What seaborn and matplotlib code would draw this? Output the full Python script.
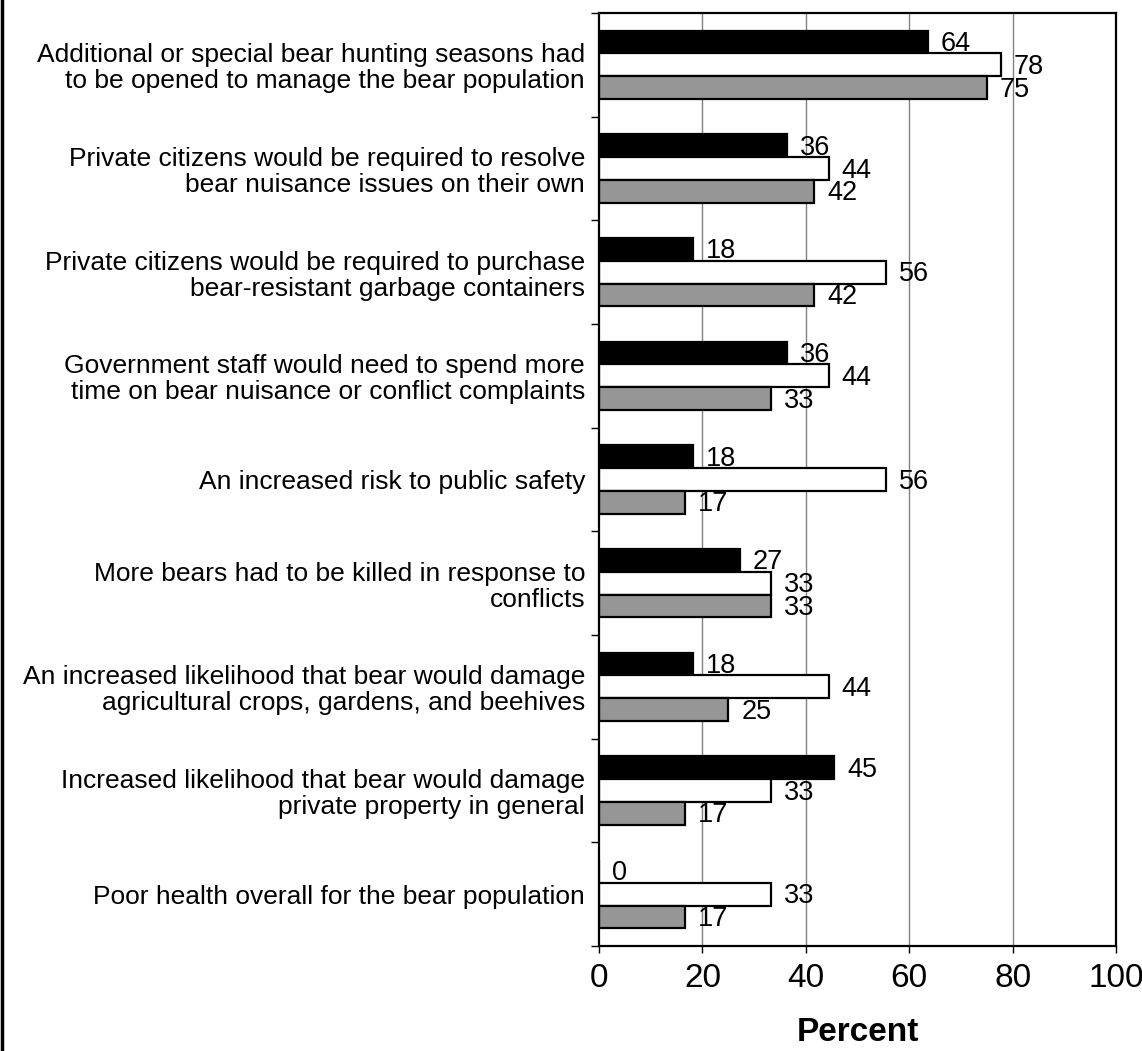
import numpy as np
import pandas as pd
import matplotlib
matplotlib.use('Agg')
import matplotlib.pyplot as plt
import seaborn as sns
from matplotlib.lines import Line2D

# categorias (de cima para baixo)
categorias = [
    'Additional or special bear hunting seasons had\nto be opened to manage the bear population',
    'Private citizens would be required to resolve\nbear nuisance issues on their own',
    'Private citizens would be required to purchase\nbear-resistant garbage containers',
    'Government staff would need to spend more\ntime on bear nuisance or conflict complaints',
    'An increased risk to public safety',
    'More bears had to be killed in response to\nconflicts',
    'An increased likelihood that bear would damage\nagricultural crops, gardens, and beehives',
    'Increased likelihood that bear would damage\nprivate property in general',
    'Poor health overall for the bear population',
]

series = ['serie_1', 'serie_2', 'serie_3']

# percentuais
serie_1 = [63.64, 36.36, 18.18, 36.36, 18.18, 27.27, 18.18, 45.45, 0.0]
serie_2 = [77.78, 44.44, 55.56, 44.44, 55.56, 33.33, 44.44, 33.33, 33.33]
serie_3 = [75.0, 41.67, 41.67, 33.33, 16.67, 33.33, 25.0, 16.67, 16.67]

cores = {'serie_1': '#000000', 'serie_2': '#ffffff', 'serie_3': '#969696'}

df = pd.DataFrame({
    'categoria': categorias * 3,
    'serie': np.repeat(series, len(categorias)),
    'percent': serie_1 + serie_2 + serie_3,
})

sns.set_style('white')
plt.rcParams['font.family'] = ['Liberation Sans', 'DejaVu Sans']
plt.rcParams['text.color'] = 'black'
plt.rcParams['xtick.color'] = 'black'
plt.rcParams['ytick.color'] = 'black'
plt.rcParams['axes.labelcolor'] = 'black'

fig = plt.figure(figsize=(11.42, 10.51), dpi=100)
ax = fig.add_axes([599 / 1142, 1 - 946 / 1051, (1116 - 599) / 1142, (946 - 13) / 1051])

sns.barplot(data=df, y='categoria', x='percent', hue='serie', hue_order=series,
            order=categorias, palette=cores, orient='h', width=0.66,
            edgecolor='black', linewidth=1.6, saturation=1, legend=False,
            errorbar=None, ax=ax)

# rotulos de dados
for barra in ax.patches:
    w = barra.get_width()
    y = barra.get_y() + barra.get_height() / 2
    ax.annotate(f'{int(round(w))}', xy=(w, y), xytext=(13, -2), textcoords='offset pixels',
                ha='left', va='center', fontsize=19.5)

ax.set_xlim(0, 100)
ax.set_ylim(len(categorias) - 0.5, -0.5)
ax.set_xticks([0, 20, 40, 60, 80, 100])
ax.tick_params(axis='x', labelsize=24, direction='out', length=5, width=1, pad=7, bottom=True)
ax.set_yticks(range(len(categorias)))
ax.set_yticklabels(categorias, fontsize=19, linespacing=1.1)
ax.set_yticks(np.arange(-0.5, len(categorias)), minor=True)
ax.tick_params(axis='y', which='major', length=0, pad=10)
ax.tick_params(axis='y', which='minor', direction='out', length=6, width=1, left=True)

for x in [20, 40, 60, 80]:
    ax.axvline(x, color='#808080', linewidth=1, zorder=0)

for s in ax.spines.values():
    s.set_visible(True)
    s.set_color('black')
    s.set_linewidth(1.6)

ax.set_ylabel('')
ax.set_xlabel('Percent', fontsize=24, fontweight='bold', labelpad=17)

# linha na borda esquerda da figura
fig.add_artist(Line2D([0.002, 0.002], [0, 1], color='black', linewidth=2.5, transform=fig.transFigure))

fig.savefig('out.png', dpi=100)
